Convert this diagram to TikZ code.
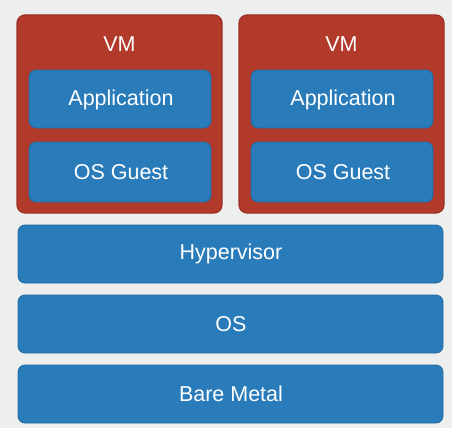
\documentclass[tikz,border=0pt]{standalone}
\usepackage{fontspec}
\setmainfont{Liberation Sans}
\definecolor{bgc}{HTML}{EDEEEE}
\definecolor{vmred}{HTML}{B23A2A}
\definecolor{vmredb}{HTML}{9C3024}
\definecolor{layblue}{HTML}{2A7BBA}
\definecolor{layblueb}{HTML}{2369A1}
\begin{document}
\begin{tikzpicture}[x=1pt,y=-1pt,
  vmbox/.style={fill=vmred,draw=vmredb,line width=1.2pt,rounded corners=8pt},
  layer/.style={fill=layblue,draw=layblueb,line width=0.8pt,rounded corners=7pt},
  lbl/.style={text=white,font=\fontsize{21.5}{24}\selectfont,inner sep=0pt}]
\fill[bgc] (0,0) rectangle (452,428);
\useasboundingbox (0,0) rectangle (452,428);
% VMs
\draw[vmbox] (17,15) rectangle (222,213);
\draw[vmbox] (239,15) rectangle (444,213);
\node[lbl] (vm1) at (119.5,44) {VM};
\node[lbl] (vm2) at (341.5,44) {VM};
\draw[layer] (29,70) rectangle (211,128);
\node[lbl] (app1) at (121,100) {Application};
\draw[layer] (29,142) rectangle (211,202);
\node[lbl] (os1) at (121,172) {OS Guest};
\draw[layer] (251,70) rectangle (433,128);
\node[lbl] (app2) at (343,100) {Application};
\draw[layer] (251,142) rectangle (433,202);
\node[lbl] (os2) at (343,172) {OS Guest};
% layers
\draw[layer] (18,225) rectangle (443,283);
\node[lbl] (hyp) at (231,254) {Hypervisor};
\draw[layer] (18,295) rectangle (443,353);
\node[lbl] (os) at (231,324) {OS};
\draw[layer] (18,365) rectangle (443,423);
\node[lbl] (bm) at (231,394) {Bare Metal};
\end{tikzpicture}
\end{document}
